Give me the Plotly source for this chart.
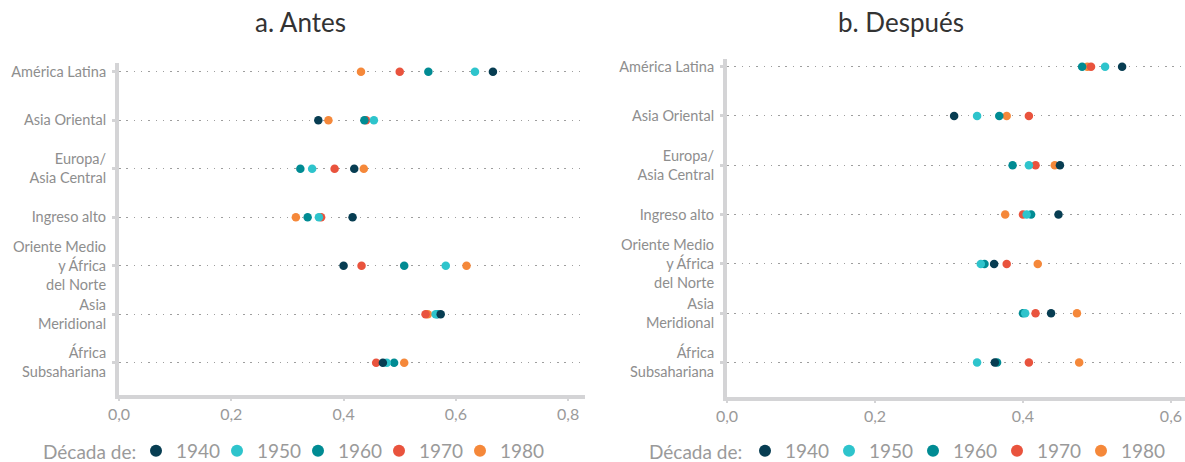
import plotly.graph_objects as go

regions = ["América Latina", "Asia Oriental", "Europa/<br>Asia Central", "Ingreso alto",
           "Oriente Medio<br>y África<br>del Norte", "Asia<br>Meridional", "África<br>Subsahariana"]
decades = ["1940", "1950", "1960", "1970", "1980"]
colors = ["#073d52", "#2ec4cc", "#008b93", "#e9533d", "#f5883a"]

antes = {
    "1940": [0.666, 0.355, 0.419, 0.416, 0.400, 0.573, 0.470],
    "1950": [0.634, 0.454, 0.344, 0.356, 0.582, 0.564, 0.477],
    "1960": [0.551, 0.437, 0.323, 0.336, 0.508, 0.567, 0.490],
    "1970": [0.500, 0.440, 0.384, 0.360, 0.432, 0.546, 0.458],
    "1980": [0.431, 0.373, 0.436, 0.315, 0.619, 0.550, 0.508],
}
despues = {
    "1940": [0.534, 0.307, 0.450, 0.448, 0.361, 0.438, 0.362],
    "1950": [0.511, 0.338, 0.408, 0.405, 0.343, 0.403, 0.338],
    "1960": [0.480, 0.368, 0.386, 0.411, 0.348, 0.400, 0.365],
    "1970": [0.492, 0.408, 0.417, 0.400, 0.378, 0.417, 0.408],
    "1980": [0.487, 0.378, 0.443, 0.376, 0.420, 0.473, 0.476],
}
x_ticks = [0, 0.2, 0.4, 0.6, 0.8]

FONT = "Lato"
AXIS_GRAY = "#d4d4d6"
TXT_GRAY = "#9a9a9a"

fig = go.Figure()
for i in reversed(range(len(decades))):
    d = decades[i]
    fig.add_trace(go.Scatter(
        x=antes[d], y=regions, mode="markers", name=d,
        marker=dict(color=colors[i], size=8.5),
        xaxis="x", yaxis="y", legend="legend", legendrank=i + 1,
        hoverinfo="x+y"))
    fig.add_trace(go.Scatter(
        x=despues[d], y=regions, mode="markers", name=d,
        marker=dict(color=colors[i], size=8.5),
        xaxis="x2", yaxis="y2", legend="legend2", legendrank=i + 1,
        hoverinfo="x+y"))
# empty spacer entries so the last legend label is not clipped
for lg, xa, ya in (("legend", "x", "y"), ("legend2", "x2", "y2")):
    fig.add_trace(go.Scatter(x=[None], y=[None], mode="markers", name=" ",
                             marker=dict(color="rgba(0,0,0,0)", size=1),
                             xaxis=xa, yaxis=ya, legend=lg, legendrank=99,
                             hoverinfo="skip"))

W, H = 1185, 462

def xax(dom, rng, anchor):
    return dict(domain=dom, range=rng, anchor=anchor, tickvals=x_ticks, tickformat=".1f",
                showgrid=False, zeroline=False, showline=True, linecolor=AXIS_GRAY,
                linewidth=4, ticks="outside", ticklen=2, tickwidth=2, tickcolor=AXIS_GRAY,
                tickfont=dict(family=FONT, size=16, color=TXT_GRAY), fixedrange=True)

def yax(dom, rng, anchor):
    return dict(domain=dom, type="category", categoryorder="array", categoryarray=regions,
                range=rng, anchor=anchor, showgrid=True, gridcolor="#9e9e9e", gridwidth=1.3,
                griddash="1.5px,5.8px", zeroline=False, showline=True, linecolor=AXIS_GRAY,
                linewidth=4, ticks="outside", ticklen=3, tickwidth=3, tickcolor=AXIS_GRAY,
                ticklabelstandoff=3,
                tickfont=dict(family=FONT, size=14.5, color="#8e8e8e"), fixedrange=True)

LEG_Y = 1 - 451 / H
legend_common = dict(orientation="h", yanchor="middle", y=LEG_Y, xanchor="left",
                     font=dict(family=FONT, size=19, color=TXT_GRAY), itemsizing="constant",
                     bgcolor="rgba(0,0,0,0)", entrywidthmode="pixels",
                     itemclick=False, itemdoubleclick=False)

fig.update_layout(
    width=W, height=H, margin=dict(l=0, r=0, t=0, b=0, autoexpand=False),
    paper_bgcolor="white", plot_bgcolor="white",
    separators=", ",
    font=dict(family=FONT),
    xaxis=xax([119 / W, 585 / W], [0, 0.83], "y"),
    yaxis=yax([1 - 395 / H, 1 - 63 / H], [6.666, -0.18], "x"),
    xaxis2=xax([727 / W, 1.0], [0, 0.619], "y2"),
    yaxis2=yax([1 - 396.5 / H, 1 - 59 / H], [6.69, -0.156], "x2"),
    legend=dict(legend_common, x=136 / W, entrywidth=36),
    legend2=dict(legend_common, x=745 / W, entrywidth=39),
    annotations=[
        dict(text="a. Antes", x=300 / W, y=1 - 22 / H, xref="paper", yref="paper",
             showarrow=False, xanchor="center", yanchor="middle",
             font=dict(family=FONT, size=26, color="#333333")),
        dict(text="b. Después", x=901 / W, y=1 - 22 / H, xref="paper", yref="paper",
             showarrow=False, xanchor="center", yanchor="middle",
             font=dict(family=FONT, size=26, color="#333333")),
        dict(text="Década de:", x=41 / W, y=LEG_Y, xref="paper", yref="paper",
             showarrow=False, xanchor="left", yanchor="middle",
             font=dict(family=FONT, size=19, color=TXT_GRAY)),
        dict(text="Década de:", x=647 / W, y=LEG_Y, xref="paper", yref="paper",
             showarrow=False, xanchor="left", yanchor="middle",
             font=dict(family=FONT, size=19, color=TXT_GRAY)),
    ],
)

fig.write_html("out.html", config={"displayModeBar": False},
               post_script="document.body.style.margin='0';document.body.style.overflow='hidden';")
